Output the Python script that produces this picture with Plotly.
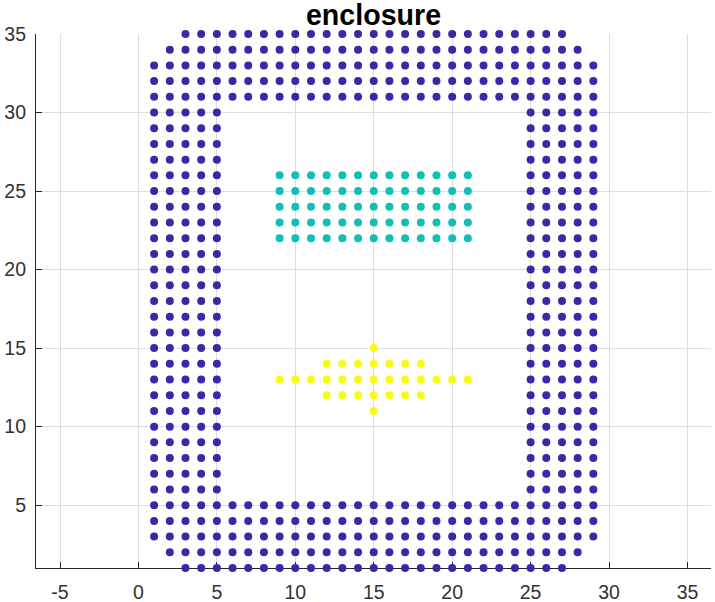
import plotly.graph_objects as go

# Enclosure rows: (y, [(x start, x end), ...]), inclusive integer spans
enclosure_rows = [
    (35, [(3, 27)]), (34, [(2, 28)]), (33, [(1, 29)]), (32, [(1, 29)]), (31, [(1, 29)]),
    (30, [(1, 5), (25, 29)]), (29, [(1, 5), (25, 29)]), (28, [(1, 5), (25, 29)]),
    (27, [(1, 5), (25, 29)]), (26, [(1, 5), (25, 29)]), (25, [(1, 5), (25, 29)]),
    (24, [(1, 5), (25, 29)]), (23, [(1, 5), (25, 29)]), (22, [(1, 5), (25, 29)]),
    (21, [(1, 5), (25, 29)]), (20, [(1, 5), (25, 29)]), (19, [(1, 5), (25, 29)]),
    (18, [(1, 5), (25, 29)]), (17, [(1, 5), (25, 29)]), (16, [(1, 5), (25, 29)]),
    (15, [(1, 5), (25, 29)]), (14, [(1, 5), (25, 29)]), (13, [(1, 5), (25, 29)]),
    (12, [(1, 5), (25, 29)]), (11, [(1, 5), (25, 29)]), (10, [(1, 5), (25, 29)]),
    (9, [(1, 5), (25, 29)]), (8, [(1, 5), (25, 29)]), (7, [(1, 5), (25, 29)]),
    (6, [(1, 5), (25, 29)]),
    (5, [(1, 29)]), (4, [(1, 29)]), (3, [(1, 29)]), (2, [(2, 28)]), (1, [(3, 27)]),
]
teal_rows = [(y, [(9, 21)]) for y in (26, 25, 24, 23, 22)]
yellow_rows = [
    (15, [(15, 15)]), (14, [(12, 18)]), (13, [(9, 21)]), (12, [(12, 18)]), (11, [(15, 15)]),
]
x_ticks = [-5, 0, 5, 10, 15, 20, 25, 30, 35]
y_ticks = [5, 10, 15, 20, 25, 30, 35]
title_text = "enclosure"


def expand(rows):
    xs, ys = [], []
    for y, spans in rows:
        for a, b in spans:
            for x in range(a, b + 1):
                xs.append(x)
                ys.append(y)
    return xs, ys


fig = go.Figure()
for rows, colour in ((enclosure_rows, "#3e26a8"), (teal_rows, "#10bfb8"), (yellow_rows, "#f9fb15")):
    xs, ys = expand(rows)
    fig.add_trace(go.Scatter(x=xs, y=ys, mode="markers", cliponaxis=False, showlegend=False,
                             marker=dict(color=colour, size=8, line=dict(width=0))))

W, H = 715, 602
L, R, T, B = 35.5, 711.5, 34, 568
axis_common = dict(
    showgrid=True, gridcolor="#dedede", gridwidth=1, zeroline=False,
    showline=True, linecolor="#262626", linewidth=1.2,
    ticks="inside", ticklen=6, tickwidth=1, tickcolor="#262626",
    tickfont=dict(family="Liberation Sans", size=19.5, color="#333333"),
    layer="below traces", tickmode="array", automargin=False,
)
fig.update_layout(
    width=W, height=H, autosize=False,
    paper_bgcolor="white", plot_bgcolor="white",
    margin=dict(l=L, r=W - R, t=T, b=H - B, pad=0),
    title=dict(text=title_text, x=(L + R) / 2 / W, xanchor="center", y=1 - 14.8 / H, yanchor="middle",
               font=dict(family="Liberation Sans", size=28.6, color="black", weight="bold")),
    xaxis=dict(range=[-6.53, 36.5], tickvals=x_ticks, ticktext=[str(v) for v in x_ticks],
               ticklabelstandoff=6, **axis_common),
    yaxis=dict(range=[1, 35], tickvals=y_ticks, ticktext=[str(v) for v in y_ticks],
               ticklabelstandoff=5, **axis_common),
)
fig.write_html("out.html", config=dict(displayModeBar=False),
               post_script="document.body.style.margin='0';")
